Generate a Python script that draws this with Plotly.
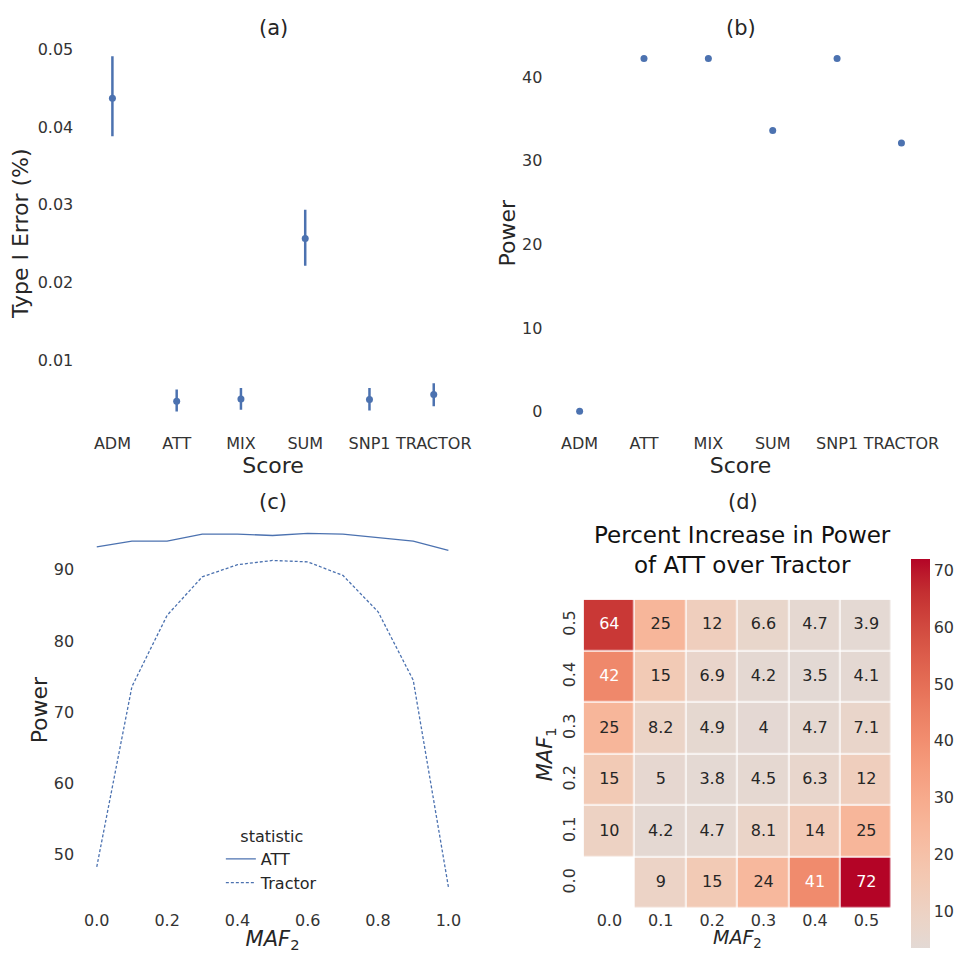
import numpy as np
import plotly.graph_objects as go

# ---------------- data ----------------
scores = ["ADM", "ATT", "MIX", "SUM", "SNP1", "TRACTOR"]
type1_mean = [0.0437, 0.00468, 0.00498, 0.02564, 0.0049, 0.00554]
type1_hi = [0.0491, 0.00618, 0.0064, 0.02933, 0.0064, 0.0070]
type1_lo = [0.0388, 0.00335, 0.00357, 0.02213, 0.0035, 0.00403]

power_scores = [0.03, 42.2, 42.2, 33.6, 42.2, 32.1]

maf2_line = [0.0, 0.1, 0.2, 0.3, 0.4, 0.5, 0.6, 0.7, 0.8, 0.9, 1.0]
power_att = [93.2, 94.0, 94.0, 95.0, 95.0, 94.8, 95.1, 95.0, 94.5, 94.0, 92.7]
power_tractor = [48.3, 73.6, 83.6, 89.0, 90.7, 91.3, 91.1, 89.2, 84.1, 74.5, 45.5]

maf_ticks = [0.0, 0.1, 0.2, 0.3, 0.4, 0.5]
# rows: MAF1 = 0.0 .. 0.5 ; cols: MAF2 = 0.0 .. 0.5
pct_increase = [
    [None, 9, 15, 24, 41, 72],
    [10, 4.2, 4.7, 8.1, 14, 25],
    [15, 5, 3.8, 4.5, 6.3, 12],
    [25, 8.2, 4.9, 4, 4.7, 7.1],
    [42, 15, 6.9, 4.2, 3.5, 4.1],
    [64, 25, 12, 6.6, 4.7, 3.9],
]

# ---------------- styling helpers ----------------
W, H = 964, 953
def fx(px):
    return px / W
def fy(py):
    return 1 - py / H

BLUE = "#4c72b0"
TXT = "#262626"
TICK = "#333333"
FONT = "DejaVu Sans"

# coolwarm (matplotlib) upper half nodes, positions 0.5 .. 1.0 step 1/32
cw_pos = [0.5 + k / 32 for k in range(17)]
cw_r = [0.865395197, 0.897787179, 0.924127593, 0.944468518, 0.958852946, 0.96732803,
        0.969954137, 0.966811177, 0.958003065, 0.943660866, 0.923944917, 0.89904617,
        0.869186849, 0.834620542, 0.795631745, 0.752534934, 0.705673158]
cw_g = [0.86541021, 0.848937047, 0.827384882, 0.800927443, 0.769767752, 0.734132809,
        0.694266682, 0.650421156, 0.602842431, 0.551750968, 0.49730856, 0.439559467,
        0.378313092, 0.312874446, 0.24128379, 0.157246067, 0.01555616]
cw_b = [0.865395561, 0.820880546, 0.774508472, 0.726736146, 0.678007945, 0.628751763,
        0.579375448, 0.530263762, 0.481775914, 0.434243684, 0.387970225, 0.343229596,
        0.300267182, 0.259301199, 0.220525627, 0.184115123, 0.150232812]

zarr = np.array([[np.nan if v is None else v for v in row] for row in pct_increase], float)
zmin, zmax = float(np.nanmin(zarr)), float(np.nanmax(zarr))
vr = max(abs(zmin), abs(zmax))
colorscale = []
for t in np.linspace(0, 1, 25):
    v = zmin + t * (zmax - zmin)
    p = (v + vr) / (2 * vr)
    r = np.interp(p, cw_pos, cw_r) * 255
    g = np.interp(p, cw_pos, cw_g) * 255
    b = np.interp(p, cw_pos, cw_b) * 255
    colorscale.append([float(t), f"rgb({r:.0f},{g:.0f},{b:.0f})"])

fig = go.Figure()

# ---------------- (a) ----------------
fig.add_trace(go.Scatter(
    x=scores, y=type1_mean, mode="markers",
    marker=dict(color=BLUE, size=7),
    error_y=dict(type="data", symmetric=False,
                 array=[h - m for h, m in zip(type1_hi, type1_mean)],
                 arrayminus=[m - l for l, m in zip(type1_lo, type1_mean)],
                 color=BLUE, thickness=2.5, width=0),
    xaxis="x", yaxis="y", showlegend=False))

# ---------------- (b) ----------------
fig.add_trace(go.Scatter(
    x=scores, y=power_scores, mode="markers",
    marker=dict(color=BLUE, size=7),
    xaxis="x2", yaxis="y2", showlegend=False))

# ---------------- (c) ----------------
fig.add_trace(go.Scatter(
    x=maf2_line, y=power_att, mode="lines", name="ATT",
    line=dict(color=BLUE, width=1.3),
    xaxis="x3", yaxis="y3", legend="legend"))
fig.add_trace(go.Scatter(
    x=maf2_line, y=power_tractor, mode="lines", name="Tractor",
    line=dict(color=BLUE, width=1.3, dash="3px,2px"),
    xaxis="x3", yaxis="y3", legend="legend"))

# ---------------- (d) ----------------
fig.add_trace(go.Heatmap(
    x=maf_ticks, y=maf_ticks, z=pct_increase,
    colorscale=colorscale, zmin=zmin, zmax=zmax,
    xgap=1.5, ygap=1.5, hoverongaps=False,
    colorbar=dict(x=fx(916), xanchor="left", xpad=0, ypad=0,
                  y=fy(948), yanchor="bottom", len=(948 - 559) / H, lenmode="fraction",
                  thickness=19, thicknessmode="pixels", outlinewidth=0,
                  ticks="", tickvals=[10, 20, 30, 40, 50, 60, 70],
                  tickfont=dict(family=FONT, size=16, color=TICK), ticklabelposition="outside"),
    xaxis="x4", yaxis="y4", showlegend=False))

ann_x, ann_y, ann_t, ann_c = [], [], [], []
for i, yv in enumerate(maf_ticks):
    for j, xv in enumerate(maf_ticks):
        v = pct_increase[i][j]
        if v is None:
            continue
        ann_x.append(xv)
        ann_y.append(yv)
        ann_t.append(format(v, ".2g"))
        ann_c.append("white" if v > 35 else TXT)
fig.add_trace(go.Scatter(
    x=ann_x, y=ann_y, mode="text", text=ann_t,
    textfont=dict(family=FONT, size=16, color=ann_c),
    xaxis="x4", yaxis="y4", showlegend=False, hoverinfo="skip"))

# ---------------- layout ----------------
tickfont = dict(family=FONT, size=16, color=TICK)
titlefont = dict(family=FONT, size=22, color=TXT)
maf_titlefont = dict(family=FONT, size=21, color=TXT)

def ax(**kw):
    base = dict(showgrid=False, zeroline=False, showline=False, ticks="",
                tickfont=tickfont, title_font=titlefont)
    base.update(kw)
    return base

def label(text, px, py, size=21, color=TXT):
    return dict(text=text, x=fx(px), y=fy(py), xref="paper", yref="paper",
                xanchor="center", yanchor="middle", showarrow=False,
                font=dict(family=FONT, size=size, color=color))

fig.update_layout(
    width=W, height=H, margin=dict(l=0, r=0, t=0, b=0),
    paper_bgcolor="white", plot_bgcolor="white",
    xaxis=ax(domain=[fx(80.7), fx(468.3)], range=[-0.5, 5.5], anchor="y",
             title=dict(text="Score", standoff=4), ticklabelstandoff=6),
    yaxis=ax(domain=[fy(425), fy(40)], range=[0.00155, 0.05107], anchor="x",
             tickvals=[0.01, 0.02, 0.03, 0.04, 0.05],
             title=dict(text="Type I Error (%)", standoff=2), ticklabelstandoff=6),
    xaxis2=ax(domain=[fx(550.3), fx(938.5)], range=[-0.5, 5.5], anchor="y2",
              title=dict(text="Score", standoff=4), ticklabelstandoff=6),
    yaxis2=ax(domain=[fy(425), fy(40)], range=[-1.67, 44.3], anchor="x2",
              tickvals=[0, 10, 20, 30, 40],
              title=dict(text="Power", standoff=0), ticklabelstandoff=4),
    xaxis3=ax(domain=[fx(79.6), fx(468.4)], range=[-0.05, 1.05], anchor="y3",
              tickvals=[0, 0.2, 0.4, 0.6, 0.8, 1.0], tickformat=".1f",
              title=dict(text="<i>MAF</i><sub>2</sub>", standoff=6, font=maf_titlefont),
              ticklabelstandoff=4),
    yaxis3=ax(domain=[fy(904.6), fy(515.1)], range=[43.0, 97.6], anchor="x3",
              tickvals=[50, 60, 70, 80, 90],
              title=dict(text="Power", standoff=0), ticklabelstandoff=4),
    xaxis4=ax(domain=[fx(586.7), fx(896.7)], range=[-0.05, 0.55], anchor="y4",
              tickvals=maf_ticks, tickformat=".1f", ticklabelstandoff=0),
    yaxis4=ax(domain=[fy(909), fy(599.3)], range=[-0.05, 0.55], anchor="x4",
              tickvals=maf_ticks, tickformat=".1f", tickangle=-90,
              title=dict(text="<i>MAF</i><sub>1</sub>", standoff=2, font=maf_titlefont),
              ticklabelstandoff=4),
    legend=dict(x=fx(222), y=fy(821), xanchor="left", yanchor="top",
                bgcolor="rgba(0,0,0,0)", font=dict(family=FONT, size=16, color=TXT),
                title=dict(text="statistic", side="top center",
                           font=dict(family=FONT, size=16, color=TXT)),
                tracegroupgap=0, itemwidth=30),
    annotations=[
        label("(a)", 275, 27),
        label("(b)", 745, 27),
        label("(c)", 274, 502),
        label("(d)", 747, 502),
        label("Percent Increase in Power<br>of ATT over Tractor", 746, 550,
              size=23, color="#111111"),
        label("<i>MAF</i><sub>2</sub>", 741, 938, size=19),
    ],
)

fig.write_html("out.html")
